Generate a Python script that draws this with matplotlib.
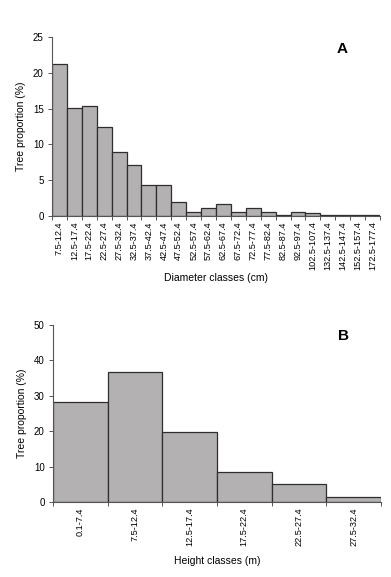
import numpy as np
import matplotlib
matplotlib.use("Agg")
import matplotlib.pyplot as plt
from matplotlib import font_manager

# diameter classes (panel A)
diam_classes = ["7.5-12.4", "12.5-17.4", "17.5-22.4", "22.5-27.4", "27.5-32.4",
                "32.5-37.4", "37.5-42.4", "42.5-47.4", "47.5-52.4", "52.5-57.4",
                "57.5-62.4", "62.5-67.4", "67.5-72.4", "72.5-77.4", "77.5-82.4",
                "82.5-87.4", "92.5-97.4", "102.5-107.4", "132.5-137.4",
                "142.5-147.4", "152.5-157.4", "172.5-177.4"]
diam_values = [21.3, 15.1, 15.4, 12.4, 8.9, 7.2, 4.4, 4.4, 1.9, 0.6,
               1.1, 1.7, 0.6, 1.1, 0.6, 0.2, 0.6, 0.4, 0.1, 0.1, 0.1, 0.1]

# height classes (panel B)
height_classes = ["0.1-7.4", "7.5-12.4", "12.5-17.4", "17.5-22.4", "22.5-27.4", "27.5-32.4"]
height_values = [28.3, 36.8, 19.8, 8.6, 5.1, 1.5]

installed = {f.name for f in font_manager.fontManager.ttflist}
narrow = "Liberation Sans Narrow" if "Liberation Sans Narrow" in installed else "Liberation Sans"
plt.rcParams["font.family"] = [narrow, "DejaVu Sans"]

BAR = "#b3b1b1"
EDGE = "#2e2e2e"
AXC = "#555555"
TICKFONT = ["Liberation Sans", "DejaVu Sans"]


def hist_panel(ax, labels, values, ymax, ystep, xlabel, letter, lpad):
    n = len(values)
    x = np.arange(n)
    ax.bar(x, values, width=1.0, color=BAR, edgecolor=EDGE, linewidth=0.9, zorder=2)
    ax.set_xlim(-0.5, n - 0.5)
    ax.set_ylim(0, ymax)
    ax.set_yticks(np.arange(0, ymax + 1, ystep))
    ax.set_xticks(np.arange(-0.5, n, 1.0))
    ax.set_xticklabels([])
    ax.set_xticks(x, minor=True)
    ax.set_xticklabels(labels, minor=True, rotation=90, fontsize=6.6, family=TICKFONT)
    ax.tick_params(axis="x", which="minor", length=0, pad=4)
    ax.tick_params(axis="x", which="major", length=3, width=0.7, color=AXC)
    ax.tick_params(axis="y", length=3, width=0.7, color=AXC, labelsize=7, pad=3)
    for t in ax.get_yticklabels():
        t.set_family(TICKFONT)
    for s in ["top", "right"]:
        ax.spines[s].set_visible(False)
    for s in ["left", "bottom"]:
        ax.spines[s].set_color(AXC)
        ax.spines[s].set_linewidth(0.8)
    ax.set_ylabel("Tree proportion (%)", fontsize=7.5, labelpad=5)
    ax.set_xlabel(xlabel, fontsize=7.5, labelpad=lpad)
    ax.text(0.885, 0.935, letter, transform=ax.transAxes, fontsize=11,
            fontweight="bold", ha="center", va="center")


fig = plt.figure(figsize=(3.91, 5.77), dpi=100)
axA = fig.add_axes([0.133, 0.6256, 0.839, 0.310])
axB = fig.add_axes([0.1355, 0.130, 0.839, 0.3068])

hist_panel(axA, diam_classes, diam_values, 25, 5, "Diameter classes (cm)", "A", 2)
hist_panel(axB, height_classes, height_values, 50, 10, "Height classes (m)", "B", 7)

fig.savefig("out.png", dpi=100)
